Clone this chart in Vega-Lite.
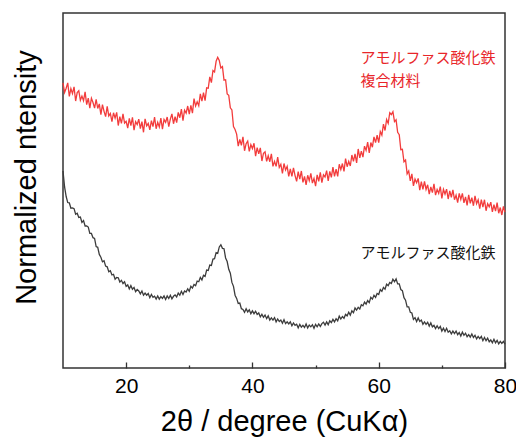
{
  "$schema": "https://vega.github.io/schema/vega-lite/v6.json",
  "width": 442,
  "height": 355,
  "autosize": {"type": "none"},
  "padding": {"left": 63, "top": 13, "right": 11, "bottom": 70},
  "background": "white",
  "config": {
    "view": {"stroke": "#333333", "strokeWidth": 1.5},
    "font": "Liberation Sans"
  },
  "datasets": {
    "xrd": [
      {"two_theta":10,"composite":80.3,"iron_oxide":55.5},
      {"two_theta":10.25,"composite":77.6,"iron_oxide":51.0},
      {"two_theta":10.5,"composite":78.8,"iron_oxide":48.3},
      {"two_theta":10.75,"composite":80.3,"iron_oxide":46.6},
      {"two_theta":11,"composite":76.5,"iron_oxide":46.5},
      {"two_theta":11.25,"composite":78.7,"iron_oxide":45.0},
      {"two_theta":11.5,"composite":77.3,"iron_oxide":45.1},
      {"two_theta":11.75,"composite":79.2,"iron_oxide":44.9},
      {"two_theta":12,"composite":75.2,"iron_oxide":43.3},
      {"two_theta":12.25,"composite":77.6,"iron_oxide":43.6},
      {"two_theta":12.5,"composite":78.1,"iron_oxide":42.4},
      {"two_theta":12.75,"composite":75.4,"iron_oxide":42.5},
      {"two_theta":13,"composite":76.6,"iron_oxide":41.0},
      {"two_theta":13.25,"composite":75.3,"iron_oxide":41.5},
      {"two_theta":13.5,"composite":77.8,"iron_oxide":40.0},
      {"two_theta":13.75,"composite":74.2,"iron_oxide":40.0},
      {"two_theta":14,"composite":76.0,"iron_oxide":39.7},
      {"two_theta":14.25,"composite":73.2,"iron_oxide":37.9},
      {"two_theta":14.5,"composite":76.0,"iron_oxide":37.9},
      {"two_theta":14.75,"composite":74.8,"iron_oxide":36.7},
      {"two_theta":15,"composite":73.2,"iron_oxide":36.5},
      {"two_theta":15.25,"composite":75.7,"iron_oxide":34.2},
      {"two_theta":15.5,"composite":73.1,"iron_oxide":34.0},
      {"two_theta":15.75,"composite":74.4,"iron_oxide":32.0},
      {"two_theta":16,"composite":71.4,"iron_oxide":31.2},
      {"two_theta":16.25,"composite":74.2,"iron_oxide":29.9},
      {"two_theta":16.5,"composite":72.3,"iron_oxide":30.2},
      {"two_theta":16.75,"composite":70.8,"iron_oxide":28.7},
      {"two_theta":17,"composite":73.7,"iron_oxide":28.5},
      {"two_theta":17.25,"composite":71.0,"iron_oxide":27.1},
      {"two_theta":17.5,"composite":71.7,"iron_oxide":27.4},
      {"two_theta":17.75,"composite":69.4,"iron_oxide":26.2},
      {"two_theta":18,"composite":71.9,"iron_oxide":26.4},
      {"two_theta":18.25,"composite":70.4,"iron_oxide":25.0},
      {"two_theta":18.5,"composite":72.0,"iron_oxide":25.5},
      {"two_theta":18.75,"composite":68.3,"iron_oxide":25.4},
      {"two_theta":19,"composite":70.8,"iron_oxide":24.2},
      {"two_theta":19.25,"composite":68.9,"iron_oxide":24.7},
      {"two_theta":19.5,"composite":71.6,"iron_oxide":23.8},
      {"two_theta":19.75,"composite":69.0,"iron_oxide":24.3},
      {"two_theta":20,"composite":69.5,"iron_oxide":23.0},
      {"two_theta":20.25,"composite":67.6,"iron_oxide":23.4},
      {"two_theta":20.5,"composite":70.3,"iron_oxide":22.3},
      {"two_theta":20.75,"composite":68.3,"iron_oxide":23.2},
      {"two_theta":21,"composite":70.6,"iron_oxide":22.2},
      {"two_theta":21.25,"composite":67.0,"iron_oxide":22.7},
      {"two_theta":21.5,"composite":69.4,"iron_oxide":21.5},
      {"two_theta":21.75,"composite":68.6,"iron_oxide":22.1},
      {"two_theta":22,"composite":70.1,"iron_oxide":21.7},
      {"two_theta":22.25,"composite":67.4,"iron_oxide":20.9},
      {"two_theta":22.5,"composite":69.4,"iron_oxide":21.7},
      {"two_theta":22.75,"composite":66.4,"iron_oxide":20.5},
      {"two_theta":23,"composite":70.2,"iron_oxide":21.1},
      {"two_theta":23.25,"composite":68.2,"iron_oxide":20.5},
      {"two_theta":23.5,"composite":68.9,"iron_oxide":21.0},
      {"two_theta":23.75,"composite":67.1,"iron_oxide":19.8},
      {"two_theta":24,"composite":69.7,"iron_oxide":20.7},
      {"two_theta":24.25,"composite":68.0,"iron_oxide":19.9},
      {"two_theta":24.5,"composite":70.7,"iron_oxide":20.2},
      {"two_theta":24.75,"composite":67.4,"iron_oxide":19.4},
      {"two_theta":25,"composite":69.2,"iron_oxide":20.3},
      {"two_theta":25.25,"composite":67.9,"iron_oxide":19.4},
      {"two_theta":25.5,"composite":70.4,"iron_oxide":20.1},
      {"two_theta":25.75,"composite":67.3,"iron_oxide":19.6},
      {"two_theta":26,"composite":70.0,"iron_oxide":20.3},
      {"two_theta":26.25,"composite":69.2,"iron_oxide":19.3},
      {"two_theta":26.5,"composite":70.7,"iron_oxide":20.3},
      {"two_theta":26.75,"composite":68.0,"iron_oxide":19.6},
      {"two_theta":27,"composite":70.1,"iron_oxide":20.5},
      {"two_theta":27.25,"composite":71.6,"iron_oxide":19.5},
      {"two_theta":27.5,"composite":68.8,"iron_oxide":20.2},
      {"two_theta":27.75,"composite":70.8,"iron_oxide":20.6},
      {"two_theta":28,"composite":69.1,"iron_oxide":20.0},
      {"two_theta":28.25,"composite":72.0,"iron_oxide":21.1},
      {"two_theta":28.5,"composite":70.5,"iron_oxide":20.5},
      {"two_theta":28.75,"composite":72.9,"iron_oxide":21.6},
      {"two_theta":29,"composite":69.7,"iron_oxide":20.7},
      {"two_theta":29.25,"composite":72.6,"iron_oxide":21.7},
      {"two_theta":29.5,"composite":71.8,"iron_oxide":21.4},
      {"two_theta":29.75,"composite":73.8,"iron_oxide":22.3},
      {"two_theta":30,"composite":71.5,"iron_oxide":21.6},
      {"two_theta":30.25,"composite":74.0,"iron_oxide":23.0},
      {"two_theta":30.5,"composite":71.8,"iron_oxide":22.5},
      {"two_theta":30.75,"composite":75.9,"iron_oxide":23.5},
      {"two_theta":31,"composite":73.8,"iron_oxide":23.2},
      {"two_theta":31.25,"composite":75.0,"iron_oxide":24.5},
      {"two_theta":31.5,"composite":73.9,"iron_oxide":24.3},
      {"two_theta":31.75,"composite":77.2,"iron_oxide":25.5},
      {"two_theta":32,"composite":75.2,"iron_oxide":24.8},
      {"two_theta":32.25,"composite":77.6,"iron_oxide":26.1},
      {"two_theta":32.5,"composite":75.3,"iron_oxide":25.8},
      {"two_theta":32.75,"composite":78.9,"iron_oxide":27.6},
      {"two_theta":33,"composite":78.8,"iron_oxide":27.5},
      {"two_theta":33.25,"composite":82.0,"iron_oxide":29.0},
      {"two_theta":33.5,"composite":80.4,"iron_oxide":28.9},
      {"two_theta":33.75,"composite":83.8,"iron_oxide":30.7},
      {"two_theta":34,"composite":83.4,"iron_oxide":30.8},
      {"two_theta":34.25,"composite":86.4,"iron_oxide":32.5},
      {"two_theta":34.5,"composite":87.5,"iron_oxide":32.3},
      {"two_theta":34.75,"composite":86.6,"iron_oxide":34.1},
      {"two_theta":35,"composite":84.5,"iron_oxide":34.7},
      {"two_theta":35.25,"composite":84.9,"iron_oxide":33.7},
      {"two_theta":35.5,"composite":81.1,"iron_oxide":33.6},
      {"two_theta":35.75,"composite":81.2,"iron_oxide":31.0},
      {"two_theta":36,"composite":77.2,"iron_oxide":30.0},
      {"two_theta":36.25,"composite":76.8,"iron_oxide":27.8},
      {"two_theta":36.5,"composite":73.3,"iron_oxide":26.7},
      {"two_theta":36.75,"composite":72.7,"iron_oxide":24.1},
      {"two_theta":37,"composite":68.0,"iron_oxide":23.0},
      {"two_theta":37.25,"composite":67.2,"iron_oxide":20.5},
      {"two_theta":37.5,"composite":65.9,"iron_oxide":19.6},
      {"two_theta":37.75,"composite":62.5,"iron_oxide":18.2},
      {"two_theta":38,"composite":64.4,"iron_oxide":18.3},
      {"two_theta":38.25,"composite":62.7,"iron_oxide":16.7},
      {"two_theta":38.5,"composite":65.1,"iron_oxide":16.5},
      {"two_theta":38.75,"composite":61.2,"iron_oxide":15.7},
      {"two_theta":39,"composite":63.2,"iron_oxide":16.7},
      {"two_theta":39.25,"composite":63.9,"iron_oxide":15.8},
      {"two_theta":39.5,"composite":61.0,"iron_oxide":16.4},
      {"two_theta":39.75,"composite":62.9,"iron_oxide":15.3},
      {"two_theta":40,"composite":61.8,"iron_oxide":16.1},
      {"two_theta":40.25,"composite":63.3,"iron_oxide":15.3},
      {"two_theta":40.5,"composite":59.7,"iron_oxide":16.0},
      {"two_theta":40.75,"composite":62.1,"iron_oxide":15.1},
      {"two_theta":41,"composite":60.3,"iron_oxide":15.5},
      {"two_theta":41.25,"composite":62.0,"iron_oxide":14.4},
      {"two_theta":41.5,"composite":58.3,"iron_oxide":15.1},
      {"two_theta":41.75,"composite":60.5,"iron_oxide":14.3},
      {"two_theta":42,"composite":60.9,"iron_oxide":14.9},
      {"two_theta":42.25,"composite":58.2,"iron_oxide":13.9},
      {"two_theta":42.5,"composite":59.8,"iron_oxide":14.7},
      {"two_theta":42.75,"composite":58.1,"iron_oxide":13.5},
      {"two_theta":43,"composite":60.3,"iron_oxide":14.1},
      {"two_theta":43.25,"composite":56.8,"iron_oxide":13.5},
      {"two_theta":43.5,"composite":58.2,"iron_oxide":14.2},
      {"two_theta":43.75,"composite":56.8,"iron_oxide":13.0},
      {"two_theta":44,"composite":59.4,"iron_oxide":13.8},
      {"two_theta":44.25,"composite":56.5,"iron_oxide":13.1},
      {"two_theta":44.5,"composite":57.4,"iron_oxide":13.5},
      {"two_theta":44.75,"composite":54.8,"iron_oxide":12.6},
      {"two_theta":45,"composite":57.6,"iron_oxide":13.6},
      {"two_theta":45.25,"composite":55.8,"iron_oxide":12.5},
      {"two_theta":45.5,"composite":56.8,"iron_oxide":13.0},
      {"two_theta":45.75,"composite":54.0,"iron_oxide":12.4},
      {"two_theta":46,"composite":56.1,"iron_oxide":13.0},
      {"two_theta":46.25,"composite":54.0,"iron_oxide":11.9},
      {"two_theta":46.5,"composite":56.4,"iron_oxide":12.7},
      {"two_theta":46.75,"composite":54.2,"iron_oxide":12.0},
      {"two_theta":47,"composite":52.6,"iron_oxide":12.3},
      {"two_theta":47.25,"composite":55.3,"iron_oxide":11.3},
      {"two_theta":47.5,"composite":53.2,"iron_oxide":12.3},
      {"two_theta":47.75,"composite":55.5,"iron_oxide":11.5},
      {"two_theta":48,"composite":52.3,"iron_oxide":12.0},
      {"two_theta":48.25,"composite":54.0,"iron_oxide":11.4},
      {"two_theta":48.5,"composite":51.6,"iron_oxide":12.4},
      {"two_theta":48.75,"composite":54.3,"iron_oxide":11.3},
      {"two_theta":49,"composite":52.8,"iron_oxide":12.1},
      {"two_theta":49.25,"composite":54.8,"iron_oxide":11.6},
      {"two_theta":49.5,"composite":52.1,"iron_oxide":12.2},
      {"two_theta":49.75,"composite":53.4,"iron_oxide":11.2},
      {"two_theta":50,"composite":51.2,"iron_oxide":12.3},
      {"two_theta":50.25,"composite":54.4,"iron_oxide":11.6},
      {"two_theta":50.5,"composite":52.6,"iron_oxide":12.4},
      {"two_theta":50.75,"composite":55.1,"iron_oxide":11.7},
      {"two_theta":51,"composite":52.2,"iron_oxide":12.5},
      {"two_theta":51.25,"composite":54.4,"iron_oxide":12.9},
      {"two_theta":51.5,"composite":53.8,"iron_oxide":12.1},
      {"two_theta":51.75,"composite":55.6,"iron_oxide":13.0},
      {"two_theta":52,"composite":52.7,"iron_oxide":12.2},
      {"two_theta":52.25,"composite":55.4,"iron_oxide":13.3},
      {"two_theta":52.5,"composite":53.7,"iron_oxide":12.8},
      {"two_theta":52.75,"composite":56.6,"iron_oxide":13.7},
      {"two_theta":53,"composite":54.0,"iron_oxide":13.0},
      {"two_theta":53.25,"composite":56.0,"iron_oxide":13.9},
      {"two_theta":53.5,"composite":54.0,"iron_oxide":13.3},
      {"two_theta":53.75,"composite":57.4,"iron_oxide":14.6},
      {"two_theta":54,"composite":55.9,"iron_oxide":13.8},
      {"two_theta":54.25,"composite":57.6,"iron_oxide":14.5},
      {"two_theta":54.5,"composite":55.4,"iron_oxide":14.0},
      {"two_theta":54.75,"composite":59.0,"iron_oxide":15.1},
      {"two_theta":55,"composite":56.7,"iron_oxide":14.7},
      {"two_theta":55.25,"composite":58.2,"iron_oxide":15.7},
      {"two_theta":55.5,"composite":56.9,"iron_oxide":14.9},
      {"two_theta":55.75,"composite":60.0,"iron_oxide":16.1},
      {"two_theta":56,"composite":58.2,"iron_oxide":15.6},
      {"two_theta":56.25,"composite":60.3,"iron_oxide":16.9},
      {"two_theta":56.5,"composite":57.8,"iron_oxide":16.3},
      {"two_theta":56.75,"composite":61.7,"iron_oxide":17.1},
      {"two_theta":57,"composite":59.2,"iron_oxide":16.6},
      {"two_theta":57.25,"composite":61.1,"iron_oxide":17.8},
      {"two_theta":57.5,"composite":59.4,"iron_oxide":17.5},
      {"two_theta":57.75,"composite":62.5,"iron_oxide":18.6},
      {"two_theta":58,"composite":61.3,"iron_oxide":18.0},
      {"two_theta":58.25,"composite":63.6,"iron_oxide":19.0},
      {"two_theta":58.5,"composite":60.6,"iron_oxide":18.4},
      {"two_theta":58.75,"composite":63.5,"iron_oxide":19.9},
      {"two_theta":59,"composite":62.2,"iron_oxide":19.4},
      {"two_theta":59.25,"composite":65.1,"iron_oxide":20.5},
      {"two_theta":59.5,"composite":63.5,"iron_oxide":19.9},
      {"two_theta":59.75,"composite":65.6,"iron_oxide":21.0},
      {"two_theta":60,"composite":63.5,"iron_oxide":20.7},
      {"two_theta":60.25,"composite":66.6,"iron_oxide":22.1},
      {"two_theta":60.5,"composite":65.6,"iron_oxide":21.6},
      {"two_theta":60.75,"composite":68.7,"iron_oxide":22.7},
      {"two_theta":61,"composite":66.9,"iron_oxide":22.2},
      {"two_theta":61.25,"composite":70.0,"iron_oxide":23.6},
      {"two_theta":61.5,"composite":68.9,"iron_oxide":23.2},
      {"two_theta":61.75,"composite":71.9,"iron_oxide":24.1},
      {"two_theta":62,"composite":71.4,"iron_oxide":23.8},
      {"two_theta":62.25,"composite":72.2,"iron_oxide":25.0},
      {"two_theta":62.5,"composite":69.4,"iron_oxide":24.3},
      {"two_theta":62.75,"composite":69.9,"iron_oxide":25.1},
      {"two_theta":63,"composite":66.4,"iron_oxide":23.7},
      {"two_theta":63.25,"composite":65.7,"iron_oxide":23.7},
      {"two_theta":63.5,"composite":61.5,"iron_oxide":22.1},
      {"two_theta":63.75,"composite":61.6,"iron_oxide":21.8},
      {"two_theta":64,"composite":58.1,"iron_oxide":19.8},
      {"two_theta":64.25,"composite":58.6,"iron_oxide":19.1},
      {"two_theta":64.5,"composite":54.7,"iron_oxide":17.2},
      {"two_theta":64.75,"composite":55.5,"iron_oxide":17.2},
      {"two_theta":65,"composite":52.7,"iron_oxide":15.7},
      {"two_theta":65.25,"composite":54.7,"iron_oxide":15.5},
      {"two_theta":65.5,"composite":51.3,"iron_oxide":13.7},
      {"two_theta":65.75,"composite":53.2,"iron_oxide":14.2},
      {"two_theta":66,"composite":52.2,"iron_oxide":13.1},
      {"two_theta":66.25,"composite":53.4,"iron_oxide":14.1},
      {"two_theta":66.5,"composite":50.1,"iron_oxide":13.1},
      {"two_theta":66.75,"composite":52.5,"iron_oxide":13.5},
      {"two_theta":67,"composite":50.3,"iron_oxide":12.3},
      {"two_theta":67.25,"composite":52.6,"iron_oxide":13.0},
      {"two_theta":67.5,"composite":50.3,"iron_oxide":12.3},
      {"two_theta":67.75,"composite":51.6,"iron_oxide":12.9},
      {"two_theta":68,"composite":49.0,"iron_oxide":11.8},
      {"two_theta":68.25,"composite":51.0,"iron_oxide":12.7},
      {"two_theta":68.5,"composite":49.4,"iron_oxide":11.6},
      {"two_theta":68.75,"composite":51.9,"iron_oxide":12.0},
      {"two_theta":69,"composite":48.7,"iron_oxide":11.1},
      {"two_theta":69.25,"composite":50.3,"iron_oxide":11.9},
      {"two_theta":69.5,"composite":49.2,"iron_oxide":11.1},
      {"two_theta":69.75,"composite":51.1,"iron_oxide":11.7},
      {"two_theta":70,"composite":47.8,"iron_oxide":10.4},
      {"two_theta":70.25,"composite":50.3,"iron_oxide":11.2},
      {"two_theta":70.5,"composite":49.0,"iron_oxide":10.3},
      {"two_theta":70.75,"composite":50.4,"iron_oxide":11.2},
      {"two_theta":71,"composite":47.6,"iron_oxide":10.1},
      {"two_theta":71.25,"composite":49.9,"iron_oxide":10.5},
      {"two_theta":71.5,"composite":48.1,"iron_oxide":9.6},
      {"two_theta":71.75,"composite":50.2,"iron_oxide":10.4},
      {"two_theta":72,"composite":47.4,"iron_oxide":9.7},
      {"two_theta":72.25,"composite":48.7,"iron_oxide":10.4},
      {"two_theta":72.5,"composite":46.6,"iron_oxide":9.4},
      {"two_theta":72.75,"composite":49.2,"iron_oxide":10.0},
      {"two_theta":73,"composite":47.5,"iron_oxide":9.0},
      {"two_theta":73.25,"composite":49.2,"iron_oxide":10.1},
      {"two_theta":73.5,"composite":46.5,"iron_oxide":9.2},
      {"two_theta":73.75,"composite":48.2,"iron_oxide":9.8},
      {"two_theta":74,"composite":45.8,"iron_oxide":8.8},
      {"two_theta":74.25,"composite":48.8,"iron_oxide":9.4},
      {"two_theta":74.5,"composite":46.4,"iron_oxide":8.7},
      {"two_theta":74.75,"composite":48.0,"iron_oxide":9.6},
      {"two_theta":75,"composite":45.7,"iron_oxide":8.6},
      {"two_theta":75.25,"composite":48.5,"iron_oxide":9.2},
      {"two_theta":75.5,"composite":46.3,"iron_oxide":8.2},
      {"two_theta":75.75,"composite":47.4,"iron_oxide":8.9},
      {"two_theta":76,"composite":44.9,"iron_oxide":8.3},
      {"two_theta":76.25,"composite":47.4,"iron_oxide":8.9},
      {"two_theta":76.5,"composite":45.3,"iron_oxide":7.7},
      {"two_theta":76.75,"composite":47.4,"iron_oxide":8.6},
      {"two_theta":77,"composite":44.3,"iron_oxide":7.7},
      {"two_theta":77.25,"composite":46.3,"iron_oxide":8.4},
      {"two_theta":77.5,"composite":45.4,"iron_oxide":7.4},
      {"two_theta":77.75,"composite":46.7,"iron_oxide":7.9},
      {"two_theta":78,"composite":44.0,"iron_oxide":7.1},
      {"two_theta":78.25,"composite":46.0,"iron_oxide":8.1},
      {"two_theta":78.5,"composite":44.2,"iron_oxide":7.1},
      {"two_theta":78.75,"composite":46.6,"iron_oxide":7.8},
      {"two_theta":79,"composite":43.6,"iron_oxide":6.8},
      {"two_theta":79.25,"composite":45.2,"iron_oxide":7.5},
      {"two_theta":79.5,"composite":43.1,"iron_oxide":6.9},
      {"two_theta":79.75,"composite":45.5,"iron_oxide":7.5},
      {"two_theta":80,"composite":43.9,"iron_oxide":6.7}
    ],
    "labels": [
      {"two_theta":57.1,"intensity":87.4,"label":"アモルファス酸化鉄","series":"composite"},
      {"two_theta":57.1,"intensity":80.9,"label":"複合材料","series":"composite"},
      {"two_theta":57.1,"intensity":32.4,"label":"アモルファス酸化鉄","series":"iron_oxide"}
    ]
  },
  "layer": [
    {
      "data": {"name": "xrd"},
      "transform": [{"fold": ["composite", "iron_oxide"], "as": ["series", "intensity"]}],
      "mark": {"type": "line", "strokeWidth": 1.3},
      "encoding": {
        "x": {
          "field": "two_theta", "type": "quantitative",
          "scale": {"domain": [10, 80], "nice": false, "zero": false},
          "axis": {
            "title": "2θ / degree (CuKα)",
            "titleFontSize": 29, "titleFontWeight": "normal", "titleColor": "black",
            "titlePadding": 8,
            "values": [20, 30, 40, 50, 60, 70, 80],
            "labelExpr": "datum.value % 20 === 0 ? datum.label : ''",
            "labelFontSize": 21, "labelColor": "black", "labelPadding": 13,
            "labelFlush": false, "labelOverlap": false,
            "ticks": true,
            "tickSize": {"condition": {"test": "datum.value % 20 === 0", "value": -6}, "value": -3},
            "tickColor": "#333333", "tickWidth": 1.3, "tickOpacity": 1,
            "zindex": 1,
            "domain": false, "grid": false
          }
        },
        "y": {
          "field": "intensity", "type": "quantitative",
          "scale": {"domain": [0, 100], "nice": false},
          "axis": {
            "title": "Normalized ntensity",
            "titleFontSize": 29, "titleFontWeight": "normal", "titleColor": "black",
            "titlePadding": 22, "titleY": 164,
            "labels": false, "ticks": false, "domain": false, "grid": false
          }
        },
        "color": {
          "field": "series", "type": "nominal",
          "scale": {"domain": ["composite", "iron_oxide"], "range": ["#f23c3c", "#3c3c3c"]},
          "legend": null
        }
      }
    },
    {
      "data": {"name": "labels"},
      "transform": [{"filter": "datum.series === 'composite'"}],
      "mark": {"type": "text", "align": "left", "baseline": "middle", "font": "Noto Sans CJK JP", "fontSize": 15, "color": "#e8262a"},
      "encoding": {
        "x": {"field": "two_theta", "type": "quantitative"},
        "y": {"field": "intensity", "type": "quantitative"},
        "text": {"field": "label"}
      }
    },
    {
      "data": {"name": "labels"},
      "transform": [{"filter": "datum.series === 'iron_oxide'"}],
      "mark": {"type": "text", "align": "left", "baseline": "middle", "font": "Noto Sans CJK JP", "fontSize": 15, "color": "#111111"},
      "encoding": {
        "x": {"field": "two_theta", "type": "quantitative"},
        "y": {"field": "intensity", "type": "quantitative"},
        "text": {"field": "label"}
      }
    }
  ]
}
